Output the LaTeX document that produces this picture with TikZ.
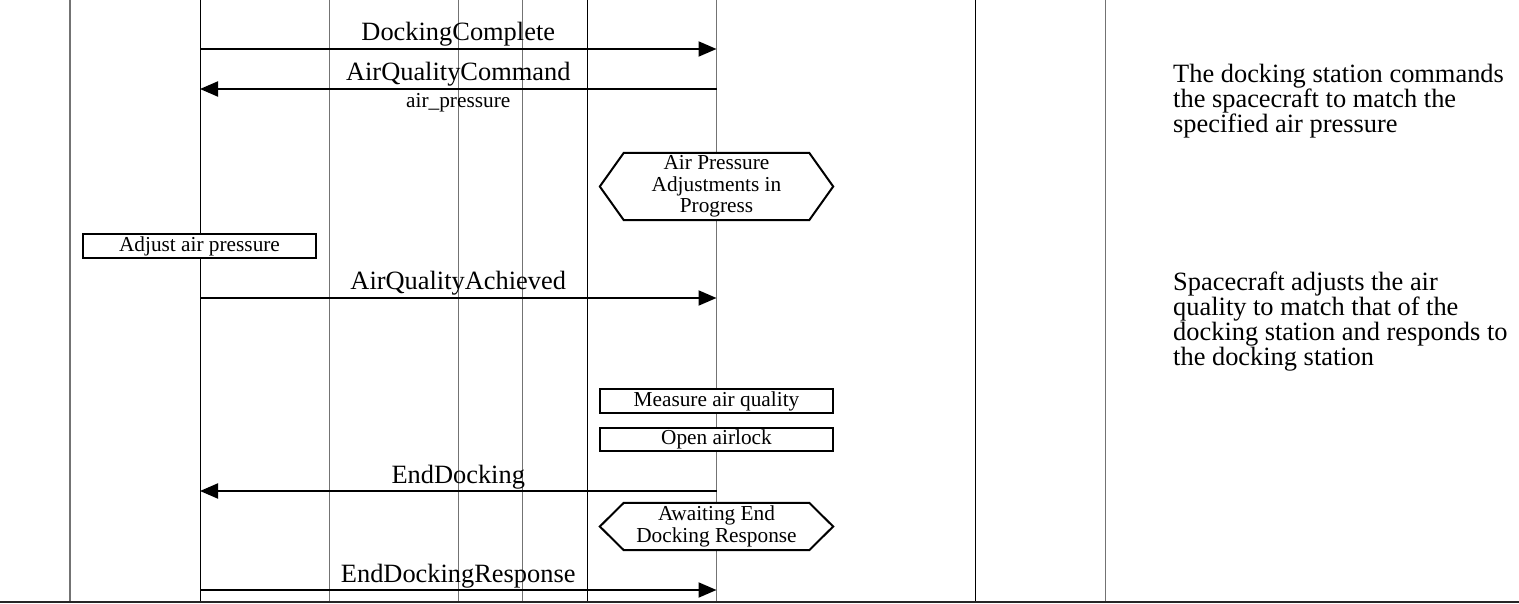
\documentclass[tikz,border=0pt]{standalone}
\usepackage{fontspec}
\setmainfont{Liberation Serif}
\usetikzlibrary{arrows.meta}
\pgfdeclarelayer{lifelines}
\pgfdeclarelayer{frames}
\pgfsetlayers{lifelines,frames,main}
% hexagonal state frame around a named node
\newcommand\hexframe[1]{%
  \draw[line width=2pt, fill=white, line join=miter]
    (#1.west) -- ([xshift=24pt]#1.north west) -- ([xshift=-24pt]#1.north east)
    -- (#1.east) -- ([xshift=-24pt]#1.south east) -- ([xshift=24pt]#1.south west) -- cycle;}
% font for the side comments, with a fixed line pitch
\newcommand\notefont{\fontsize{26.4}{25}\selectfont\lineskiplimit=-100pt\relax}
\begin{document}
\begin{tikzpicture}[x=1pt,y=-1pt,
  lifeline/.style={line width=1.2pt, draw=black!55},
  lifelinedark/.style={line width=1pt, draw=black},
  msg/.style={line width=2pt, -{Triangle[length=18pt,width=15pt]}},
  msglabel/.style={font=\fontsize{26.4}{28}\selectfont, anchor=base, inner sep=0pt, yshift=8pt},
  paramlabel/.style={font=\fontsize{21.3}{23}\selectfont, anchor=base, inner sep=0pt, yshift=-18.5pt},
  actionbox/.style={draw, line width=2pt, fill=white, minimum width=233pt, minimum height=24pt,
    inner sep=0pt, font=\fontsize{21.3}{23}\selectfont},
  statebox/.style={minimum width=233pt, inner sep=0pt, align=center, font=\fontsize{21.3}{21.5}\selectfont},
  note/.style={anchor=north west, inner sep=0pt, align=left, font=\notefont}
]
\useasboundingbox (0,0) rectangle (1519,604);

% lifelines
\foreach \x/\n in {70/a,329.5/c,458.5/d,522.5/e,716.5/g,1105.5/i}{
  \coordinate (\n top) at (\x,0);
  \coordinate (\n bot) at (\x,602);
}
\foreach \x/\n in {200/b,587/f,975/h}{
  \coordinate (\n top) at (\x,0);
  \coordinate (\n bot) at (\x,602);
}
\begin{pgfonlayer}{lifelines}
  \foreach \n in {a,c,d,e,g,i}{ \draw[lifeline] (\n top) -- (\n bot); }
  \foreach \n in {b,f,h}{ \draw[lifelinedark] (\n top) -- (\n bot); }
\end{pgfonlayer}

% bottom rule
\coordinate (ruleL) at (0,602);
\coordinate (ruleR) at (1519,602);
\draw[line width=2pt, black!85] (ruleL) -- (ruleR);

% message end points
\coordinate (m1s) at (200,49);   \coordinate (m1e) at (716.5,49);
\coordinate (m2s) at (716.5,89); \coordinate (m2e) at (200,89);
\coordinate (m3s) at (200,298);  \coordinate (m3e) at (716.5,298);
\coordinate (m4s) at (716.5,491);\coordinate (m4e) at (200,491);
\coordinate (m5s) at (200,590);  \coordinate (m5e) at (716.5,590);

% messages
\draw[msg] (m1s) -- node[msglabel] {DockingComplete} (m1e);
\draw[msg] (m2s) -- node[msglabel] {AirQualityCommand} node[paramlabel] {air\_pressure} (m2e);
\draw[msg] (m3s) -- node[msglabel] {AirQualityAchieved} (m3e);
\draw[msg] (m4s) -- node[msglabel] {EndDocking} (m4e);
\draw[msg] (m5s) -- node[msglabel] {EndDockingResponse} (m5e);

% states
\node[statebox, minimum height=67pt] (st1) at (716.5,186.5) {Air Pressure\\Adjustments in\\Progress};
\node[statebox, minimum height=47pt] (st2) at (716.5,526.5) {Awaiting End\\Docking Response};
\begin{pgfonlayer}{frames}
  \hexframe{st1}
  \hexframe{st2}
\end{pgfonlayer}

% actions
\node[actionbox] (act1) at (199.5,246) {Adjust air pressure};
\node[actionbox] (act2) at (716.5,401) {Measure air quality};
\node[actionbox, minimum height=23pt] (act3) at (716.5,439.5) {Open airlock};

% comments
\node[note] (note1) at (1173,64) {The docking station commands\\the spacecraft to match the\\specified air pressure};
\node[note] (note2) at (1173,271.5) {Spacecraft adjusts the air\\quality to match that of the\\docking station and responds to\\the docking station};
\end{tikzpicture}
\end{document}
